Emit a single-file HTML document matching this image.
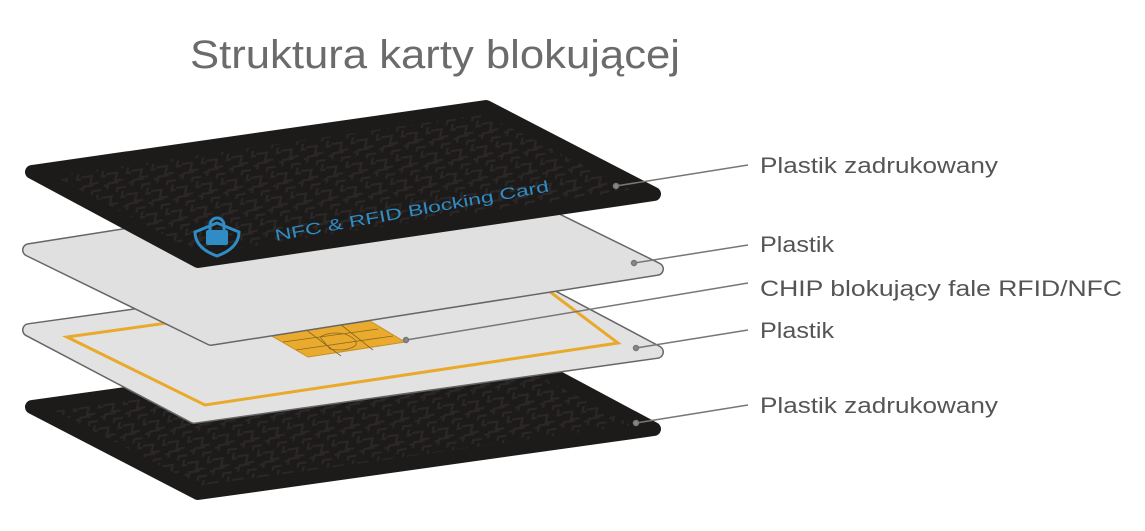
<!DOCTYPE html>
<html><head><meta charset="utf-8"><style>html,body{margin:0;padding:0;background:#fff;}svg{display:block}</style></head>
<body>
<svg width="1145" height="531" viewBox="0 0 1145 531" xmlns="http://www.w3.org/2000/svg">
<defs>
<pattern id="maze" width="24" height="24" patternUnits="userSpaceOnUse" patternTransform="skewX(-20) rotate(-8)">
<rect width="24" height="24" fill="#1d1a1a"/>
<path d="M0 4h10v8h8M4 20v-6h10M20 0v6h4M14 24v-4h8M0 16h4" stroke="#2b2727" stroke-width="2.2" fill="none"/>
</pattern>
</defs>
<text x="190" y="68" font-family="Liberation Sans, sans-serif" font-size="40" fill="#6b6b6b" textLength="490" lengthAdjust="spacingAndGlyphs">Struktura karty blokującej</text>

<!-- bottom card -->
<polygon points="32,407 493,343 654,429 198,493" fill="url(#maze)" stroke="#1d1a1a" stroke-width="14" stroke-linejoin="round"/>

<!-- card 3 -->
<polygon points="29,330 493,265 657,352 194,417" fill="#666" stroke="#666" stroke-width="14" stroke-linejoin="round"/>
<polygon points="29,330 493,265 657,352 194,417" fill="#e2e2e2" stroke="#e2e2e2" stroke-width="11" stroke-linejoin="round"/>
<polygon points="67,337 525,273 618,343 205,405" fill="none" stroke="#e9a92a" stroke-width="3"/>
<polygon points="270,335 370,321 405,342 308,357" fill="#e9aa2e" stroke="#c98f20" stroke-width="1" stroke-linejoin="round"/>
<path d="M283,342l95,-13M296,350l97,-14M305,329l36,27M340,324l33,26M320,337q10,-6 25,-3q15,6 10,12q-10,6 -25,3z" stroke="#8a6a20" stroke-width="0.8" fill="none"/>

<!-- card 2 -->
<polygon points="29,250 476,180 657,269 211,339" fill="#666" stroke="#666" stroke-width="14" stroke-linejoin="round"/>
<polygon points="29,250 476,180 657,269 211,339" fill="#e0e0e0" stroke="#e0e0e0" stroke-width="11" stroke-linejoin="round"/>

<!-- top card -->
<polygon points="32,172 486,107 654,194 198,261" fill="url(#maze)" stroke="#1d1a1a" stroke-width="14" stroke-linejoin="round"/>
<g transform="translate(276,241) rotate(-10.3)">
<text x="0" y="0" font-family="Liberation Sans, sans-serif" font-size="16" fill="#2f8cc4" textLength="278" lengthAdjust="spacingAndGlyphs">NFC &amp; RFID Blocking Card</text>
</g>
<path d="M195,232 l22,-9 l22,9 q0,16 -22,24 q-22,-8 -22,-24z" fill="none" stroke="#2f8cc4" stroke-width="3"/>
<rect x="206" y="230" width="22" height="15" rx="2" fill="#2f8cc4"/>
<path d="M210,230 v-5 a7,7 0 0 1 14,0 v5" fill="none" stroke="#2f8cc4" stroke-width="3"/>

<!-- leader lines -->
<g stroke="#777" stroke-width="1.5" fill="#888">
<line x1="616" y1="186" x2="748" y2="165"/><circle cx="616" cy="186" r="2.5"/>
<line x1="634" y1="263" x2="748" y2="245"/><circle cx="634" cy="263" r="2.5"/>
<line x1="406" y1="340" x2="748" y2="283"/><circle cx="406" cy="340" r="2.5"/>
<line x1="636" y1="348" x2="748" y2="330"/><circle cx="636" cy="348" r="2.5"/>
<line x1="636" y1="423" x2="748" y2="405"/><circle cx="636" cy="423" r="2.5"/>
</g>
<g font-family="Liberation Sans, sans-serif" font-size="22" fill="#555">
<text x="760" y="173" textLength="238" lengthAdjust="spacingAndGlyphs">Plastik zadrukowany</text>
<text x="760" y="252" textLength="74" lengthAdjust="spacingAndGlyphs">Plastik</text>
<text x="760" y="296" textLength="362" lengthAdjust="spacingAndGlyphs">CHIP blokujący fale RFID/NFC</text>
<text x="760" y="338" textLength="74" lengthAdjust="spacingAndGlyphs">Plastik</text>
<text x="760" y="413" textLength="238" lengthAdjust="spacingAndGlyphs">Plastik zadrukowany</text>
</g>
</svg>
</body></html>
